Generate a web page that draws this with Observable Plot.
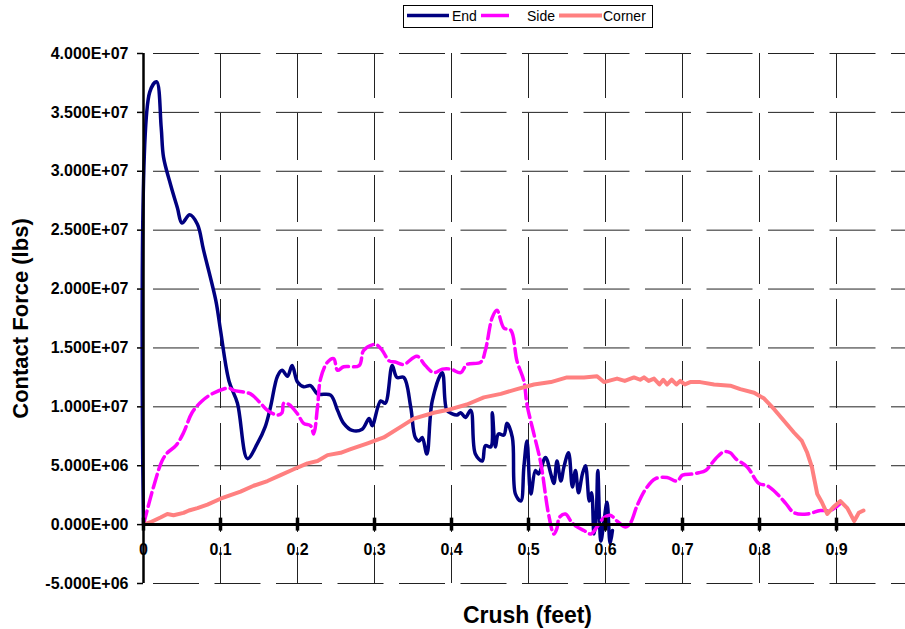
<!DOCTYPE html>
<html>
<head>
<meta charset="utf-8">
<script src="https://cdn.jsdelivr.net/npm/d3@7"></script>
<script src="https://cdn.jsdelivr.net/npm/@observablehq/plot@0.6"></script>
<style>
  html, body { margin: 0; padding: 0; background: #fff; }
  #wrap { position: relative; width: 905px; height: 629px; overflow: hidden; font-family: "Liberation Sans", Arial, sans-serif; }
  #legend { position: absolute; left: 403px; top: 5px; }
</style>
</head>
<body>
<div id="wrap"><div id="chart"></div><div id="legend"></div></div>
<script>
// ---- data (crush in feet, force in millions of lbs) ----
const endCrush = [0,0.008,0.017,0.023,0.026,0.035,0.044,0.050,0.060,0.070,0.078,0.094,0.100,0.111,0.122,0.135,0.148,0.158,0.165,0.174,0.180,0.187,0.193,0.200,0.208,0.217,0.226,0.243,0.252,0.260,0.271,0.284,0.293,0.297,0.308,0.314,0.323,0.329,0.338,0.347,0.353,0.358,0.362,0.368,0.375,0.388,0.394,0.401,0.407,0.412,0.418,0.425,0.431,0.440,0.444,0.451,0.453,0.457,0.461,0.468,0.472,0.479,0.483,0.490,0.494,0.498,0.503,0.509,0.513,0.522,0.529,0.533,0.537,0.542,0.546,0.552,0.557,0.561,0.565,0.570,0.574,0.579,0.582,0.585,0.588,0.590,0.594,0.598,0.602,0.606,0.609];
const endForce = [0,36.7,37.6,33.7,31.2,28.9,26.9,25.6,26.3,25.5,23.3,19.0,16.5,12.2,10.3,5.6,6.9,8.3,10.0,12.6,13.1,12.6,13.5,12.1,11.7,11.8,11.1,11.0,9.7,8.6,8.0,8.1,9.0,8.4,10.5,10.3,13.5,12.5,12.5,10.0,7.4,7.1,7.4,6.0,10.5,12.9,9.7,9.4,9.3,9.5,9.1,9.7,6.0,5.4,6.7,6.6,9.5,6.6,7.7,7.6,8.6,7.4,2.6,2.0,4.9,7.1,2.6,4.6,4.3,5.7,4.3,3.5,5.4,3.7,4.9,6.1,3.2,4.6,2.7,4.3,5.0,2.0,2.7,-0.8,0.9,4.6,-1.4,0.3,1.9,-1.6,-0.5];

const sideCrush = [0,0.013,0.024,0.031,0.042,0.052,0.063,0.076,0.089,0.111,0.117,0.139,0.152,0.161,0.174,0.180,0.182,0.189,0.200,0.208,0.217,0.221,0.226,0.230,0.239,0.247,0.252,0.260,0.280,0.286,0.301,0.310,0.319,0.327,0.338,0.355,0.366,0.377,0.388,0.399,0.412,0.420,0.438,0.444,0.453,0.459,0.468,0.477,0.485,0.494,0.498,0.507,0.516,0.526,0.533,0.537,0.540,0.548,0.555,0.561,0.572,0.581,0.589,0.598,0.606,0.615,0.626,0.632,0.641,0.652,0.665,0.680,0.693,0.700,0.713,0.721,0.730,0.743,0.754,0.762,0.769,0.784,0.799,0.810,0.823,0.834,0.845,0.862,0.879,0.892,0.905];
const sideForce = [0,3.2,5.4,6.1,6.7,7.8,9.5,10.5,11.1,11.6,11.4,11.1,10.3,9.7,9.3,9.5,10.3,10.2,9.4,8.6,8.4,7.7,10.0,12.4,13.8,14.1,13.1,13.4,13.5,14.8,15.3,14.8,13.9,13.8,13.6,14.3,13.5,12.9,13.2,13.2,12.9,13.6,13.8,14.8,17.6,18.2,16.7,16.5,13.9,12.2,10.2,7.7,5.2,0.9,-0.8,-0.3,0.6,0.9,0.3,-0.1,-0.5,-0.8,-0.2,0.6,0.8,0.3,-0.2,0.1,1.6,3.0,3.9,4.0,3.7,4.2,4.3,4.4,4.6,5.6,6.2,6.1,5.6,4.9,3.5,3.3,2.6,1.8,1.0,0.9,1.2,1.2,1.8];

const cornerCrush = [0,0.009,0.022,0.031,0.039,0.052,0.059,0.070,0.083,0.100,0.113,0.126,0.143,0.161,0.178,0.195,0.213,0.226,0.239,0.256,0.269,0.291,0.312,0.334,0.351,0.377,0.399,0.420,0.442,0.464,0.485,0.507,0.529,0.550,0.572,0.589,0.598,0.615,0.625,0.637,0.645,0.650,0.656,0.663,0.670,0.675,0.680,0.686,0.692,0.697,0.703,0.710,0.723,0.741,0.762,0.775,0.793,0.806,0.819,0.832,0.845,0.855,0.862,0.868,0.875,0.881,0.888,0.896,0.905,0.914,0.923,0.929,0.935];
const cornerForce = [0,0.2,0.6,0.9,0.8,1.0,1.2,1.4,1.7,2.2,2.5,2.8,3.3,3.7,4.2,4.7,5.2,5.4,5.9,6.1,6.4,6.9,7.4,8.3,9.0,9.5,9.8,10.2,10.8,11.1,11.5,11.9,12.1,12.5,12.5,12.6,12.1,12.4,12.2,12.5,12.3,12.5,12.2,12.4,11.9,12.3,11.9,12.3,11.9,12.2,11.9,12.1,12.1,11.9,11.8,11.5,11.2,10.7,9.8,8.8,7.8,7.1,6.1,4.9,2.6,1.9,0.9,1.5,2.0,1.4,0.3,1.0,1.2];

const yTicks = [-5e6,0,5e6,10e6,15e6,20e6,25e6,30e6,35e6,40e6];
const xTicks = [0,0.1,0.2,0.3,0.4,0.5,0.6,0.7,0.8,0.9];
const xGrid = [0.1,0.2,0.3,0.4,0.5,0.6,0.7,0.8,0.9];
const seriesNames = ["End","Side","Corner"];
const seriesColors = ["#000080","#FF00FF","#FF8080"];
const yTitle = "Contact Force (lbs)";
const xTitle = "Crush (feet)";

const toRows = (xs, ys) => xs.map((x, i) => ({x, y: ys[i] * 1e6}));
const endRows = toRows(endCrush, endForce);
const sideRows = toRows(sideCrush, sideForce);
const cornerRows = toRows(cornerCrush, cornerForce);

const fmtE = d => {
  const [m, e] = d.toExponential(3).split("e");
  const s = e[0] === "-" ? "-" : "+";
  const n = e.replace(/[+-]/, "").padStart(2, "0");
  return `${m}E${s}${n}`;
};

const xMax = 0.9896;
const font = "Liberation Sans, Arial, sans-serif";

const chart = Plot.plot({
  width: 905,
  height: 629,
  marginLeft: 143,
  marginRight: 0,
  marginTop: 53,
  marginBottom: 46,
  style: {fontFamily: font, background: "white", overflow: "visible"},
  x: {domain: [0, xMax], axis: null},
  y: {domain: [-5e6, 4e7], axis: null},
  marks: [
    Plot.ruleY(yTicks.filter(d => d !== 0), {y: d => d, x1: 0, x2: xMax, stroke: "#222", strokeWidth: 1, strokeDasharray: "46,15.5", strokeDashoffset: 51.5}),
    Plot.ruleX(xGrid, {x: d => d, y1: 4e7, y2: -5e6, stroke: "#222", strokeWidth: 1, strokeDasharray: "47,15", strokeDashoffset: 2}),
    Plot.line(endRows, {x: "x", y: "y", stroke: seriesColors[0], strokeWidth: 3.5, curve: "catmull-rom"}),
    Plot.line(sideRows, {x: "x", y: "y", stroke: seriesColors[1], strokeWidth: 3.5, strokeDasharray: "14,5", curve: "catmull-rom"}),
    Plot.line(cornerRows, {x: "x", y: "y", stroke: seriesColors[2], strokeWidth: 4, curve: "linear"}),
    Plot.ruleY([0], {x1: 0, x2: xMax, stroke: "#000", strokeWidth: 3}),
    Plot.ruleX(xTicks, {x: d => d, y1: -0.55e6, y2: 0.55e6, stroke: "#000", strokeWidth: 3.5}),
    Plot.ruleX([0], {y1: -5e6, y2: 4e7, stroke: "#000", strokeWidth: 2.5}),
    Plot.axisY(yTicks, {anchor: "left", label: null, tickSize: 6, tickPadding: 9, tickFormat: fmtE, fontSize: 16, fontWeight: "bold", stroke: "#000", strokeWidth: 1.5, fill: "#000"}),
    Plot.text(xTicks, {x: d => d, y: 0, dy: 25, text: d => String(d), fontSize: 16, fontWeight: "bold", fill: "#000"}),
    Plot.text([yTitle], {frameAnchor: "left", textAnchor: "middle", dx: -123, rotate: -90, text: d => d, fontSize: 22, fontWeight: "bold", fill: "#000"}),
    Plot.text([xTitle], {frameAnchor: "bottom", textAnchor: "middle", dy: 39, dx: 3, text: d => d, fontSize: 23, fontWeight: "bold", fill: "#000"})
  ]
});
document.getElementById("chart").appendChild(chart);

// legend
const lg = d3.select("#legend").append("svg").attr("width", 251).attr("height", 24)
  .style("font-family", font);
lg.append("rect").attr("x", 0.5).attr("y", 0.5).attr("width", 249).attr("height", 22)
  .attr("fill", "white").attr("stroke", "#000").attr("stroke-width", 1);
const items = [
  {x1: 4, x2: 46, tx: 49},
  {x1: 78, x2: 106, tx: 124},
  {x1: 156, x2: 199, tx: 200}
];
items.forEach((it, i) => {
  lg.append("line").attr("x1", it.x1).attr("x2", it.x2).attr("y1", 10.5).attr("y2", 10.5)
    .attr("stroke", seriesColors[i]).attr("stroke-width", i === 2 ? 4 : 3.5);
  lg.append("text").attr("x", it.tx).attr("y", 16).attr("font-size", 14).attr("fill", "#000").text(seriesNames[i]);
});
</script>
</body>
</html>
